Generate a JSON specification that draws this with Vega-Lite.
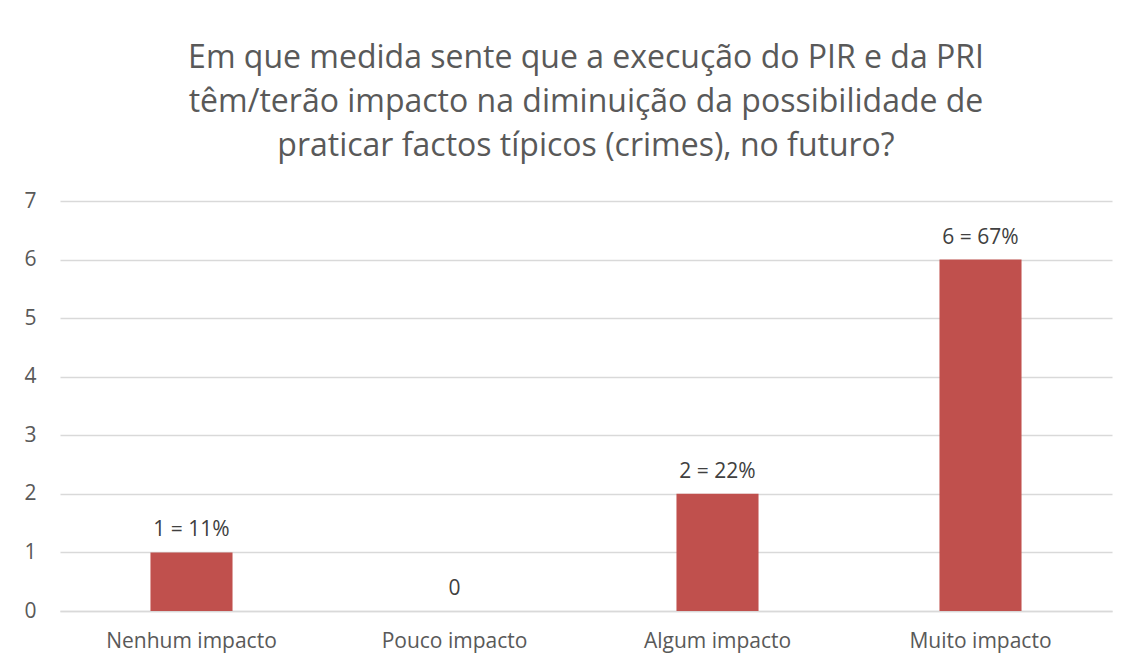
{
  "$schema": "https://vega.github.io/schema/vega-lite/v6.json",
  "autosize": {"type": "none"},
  "width": 1052,
  "height": 410,
  "padding": {"left": 60, "top": 201, "right": 18, "bottom": 53},
  "background": "white",
  "title": {
    "text": ["Em que medida sente que a execução do PIR e da PRI", "têm/terão impacto na diminuição da possibilidade de", "praticar factos típicos (crimes), no futuro?"],
    "font": "Open Sans",
    "fontSize": 32,
    "fontWeight": "normal",
    "color": "#595959",
    "lineHeight": 44,
    "anchor": "middle",
    "offset": 27
  },
  "data": {
    "values": [
      {"categoria": "Nenhum impacto", "n": 1, "rotulo": "1 = 11%"},
      {"categoria": "Pouco impacto", "n": 0, "rotulo": "0"},
      {"categoria": "Algum impacto", "n": 2, "rotulo": "2 = 22%"},
      {"categoria": "Muito impacto", "n": 6, "rotulo": "6 = 67%"}
    ]
  },
  "encoding": {
    "x": {
      "field": "categoria",
      "type": "nominal",
      "sort": null,
      "scale": {"paddingInner": 0.688, "paddingOuter": 0.344},
      "axis": {
        "title": null,
        "labelAngle": 0,
        "labelFont": "Open Sans",
        "labelFontSize": 21,
        "labelColor": "#595959",
        "labelPadding": 19,
        "ticks": false,
        "domain": true,
        "domainColor": "#D9D9D9",
        "domainWidth": 1.3
      }
    },
    "y": {
      "field": "n",
      "type": "quantitative",
      "scale": {"domain": [0, 7], "nice": false},
      "axis": {
        "title": null,
        "values": [0, 1, 2, 3, 4, 5, 6, 7],
        "labelFont": "Open Sans",
        "labelFontSize": 21,
        "labelColor": "#595959",
        "labelPadding": 24,
        "ticks": false,
        "domain": false,
        "grid": true,
        "gridColor": "#D9D9D9",
        "gridWidth": 1.3
      }
    }
  },
  "layer": [
    {"mark": {"type": "bar", "color": "#C0504D"}},
    {
      "mark": {"type": "text", "baseline": "bottom", "dy": -12, "font": "Open Sans", "fontSize": 21, "color": "#404040"},
      "encoding": {"text": {"field": "rotulo"}}
    }
  ],
  "config": {"view": {"stroke": null}}
}
